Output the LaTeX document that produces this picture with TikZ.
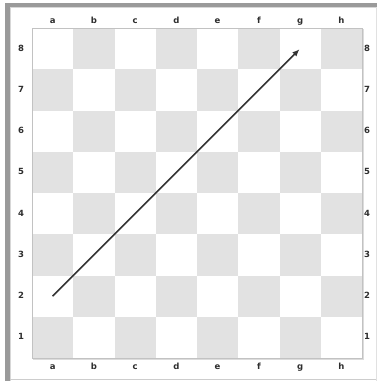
\documentclass[tikz,border=0pt]{standalone}
\usepackage{fontspec}
\newfontfamily\lblfont{DejaVu Sans}
\usetikzlibrary{arrows.meta}
\definecolor{darksq}{HTML}{E2E2E2}
\definecolor{frame}{HTML}{9A9A9A}
\definecolor{lbl}{HTML}{2E2E2E}
\definecolor{arr}{HTML}{333333}
\tikzset{
  sq/.style={fill=darksq, draw=none},
  lab/.style={font=\lblfont\bfseries\fontsize{8.5}{8.5}\selectfont, text=lbl, inner sep=0pt, text height=5pt, text depth=0pt},
  movearrow/.style={draw=arr, line width=1.5pt, -{Latex[length=7pt,width=6pt]}, shorten >=1pt}
}
\begin{document}
\begin{tikzpicture}[x=1pt,y=-1pt]
\useasboundingbox[fill=white] (0,0) rectangle (377,381);
% outer frame
\fill[frame] (5,3) rectangle (377,7);
\fill[frame] (5,3) rectangle (10,381);
\fill[frame!40] (10,7) rectangle (11,381);
\fill[frame!40] (10,7) rectangle (377,8);
\draw[frame!50, line width=0.8pt] (10,379.5) -- (377,379.5);
\draw[frame!30, line width=0.8pt] (376.5,7) -- (376.5,381);
% board
\def\bx{32}\def\by{28}\def\s{41.25}
\foreach \f in {0,...,7}{
  \foreach \r in {0,...,7}{
    \pgfmathtruncatemacro{\parity}{mod(\f+\r,2)}
    \ifnum\parity=1
      \fill[sq] ({\bx+\f*\s},{\by+\r*\s}) rectangle ++(\s,\s);
    \fi
  }
}
\draw[frame!60, line width=0.6pt] (\bx,\by) rectangle ({\bx+8*\s},{\by+8*\s});
\draw[frame!35, line width=1pt] ({\bx+8*\s+1},{\by+1}) -- ({\bx+8*\s+1},{\by+8*\s+1}) -- ({\bx+1},{\by+8*\s+1});
% labels
\foreach \l [count=\i from 0] in {a,b,c,d,e,f,g,h}{
  \node[lab] (top\l) at ({\bx+(\i+0.5)*\s},21) {\l};
  \node[lab] (bot\l) at ({\bx+(\i+0.5)*\s},367) {\l};
}
\foreach \n in {1,...,8}{
  \node[lab] (left\n) at (21,{\by+(8.5-\n)*\s}) {\n};
  \node[lab] (right\n) at (367,{\by+(8.5-\n)*\s}) {\n};
}
% arrow
\coordinate (a2) at ({\bx+0.5*\s},{\by+6.5*\s});
\coordinate (g8) at ({\bx+6.5*\s},{\by+0.5*\s});
\draw[movearrow] (a2) -- (g8);
\end{tikzpicture}
\end{document}
